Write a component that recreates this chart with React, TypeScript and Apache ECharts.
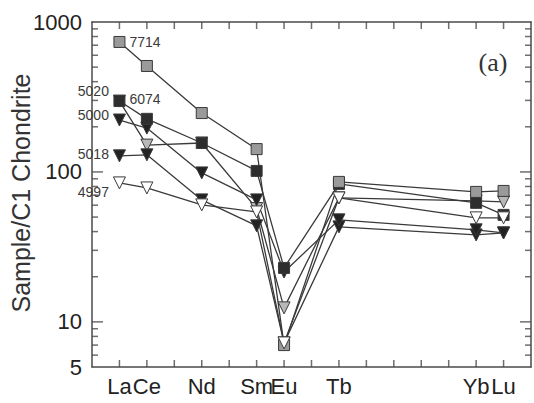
import React, { useEffect, useRef } from 'react';
import * as echarts from 'echarts';

// REE elements and their atomic numbers (x positions)
const elementNames = ['La', 'Ce', 'Nd', 'Sm', 'Eu', 'Tb', 'Yb', 'Lu'];
const atomicNumbers = [57, 58, 60, 62, 63, 65, 70, 71];
const xTickValues = [57, 58, 59, 60, 61, 62, 63, 64, 65, 66, 67, 68, 69, 70, 71];

// Chondrite-normalised values per sample
const s7714 = [736, 509, 247, 142, 7.0, 85.8, 73.6, 74.7];
const s6074 = [297, 226, 156, 101.6, 22.9, 83.2, 62.2, 51.7];
const s5020 = [297, 151, 156, 57, 12.4, 67.1, 64.1, 63.1];
const s5000 = [222, 196, 98.5, 65.1, 21.5, 47.9, 41.1, 39.2];
const s5018 = [128, 130, 65.1, 43.7, 7.24, 43.0, 38.0, 39.2];
const s4997 = [84.5, 78.2, 60.3, 54.1, 7.24, 67.1, 49.4, 49.4];

// Axis ticks / labels
const yMinorTicks = [6, 7, 8, 9, 20, 30, 40, 50, 60, 70, 80, 90, 200, 300, 400, 500, 600, 700, 800, 900];
const yMajorTicks = [10, 100];
const yLabels = [5, 10, 100, 1000];

const FONT = 'Liberation Sans, Arial, sans-serif';
const AXIS_COLOR = '#4a4a4a';
const X_MIN = 56;
const X_MAX = 72;
const Y_MIN = 5;
const Y_MAX = 1000;

type Style = {
  name: string;
  values: number[];
  symbol: string;
  rotate: number;
  fill: string;
  size: number;
  labelPos: 'left' | 'right';
  labelOffset: [number, number];
};

const styles: Style[] = [
  { name: '5020', values: s5020, symbol: 'triangle', rotate: 180, fill: '#b8b8b8', size: 12, labelPos: 'left', labelOffset: [0, -10] },
  { name: '5018', values: s5018, symbol: 'triangle', rotate: 180, fill: '#222222', size: 12, labelPos: 'left', labelOffset: [0, -2] },
  { name: '5000', values: s5000, symbol: 'triangle', rotate: 180, fill: '#222222', size: 12, labelPos: 'left', labelOffset: [0, -5] },
  { name: '6074', values: s6074, symbol: 'rect', rotate: 0, fill: '#2e2e2e', size: 11, labelPos: 'right', labelOffset: [0, -2] },
  { name: '7714', values: s7714, symbol: 'rect', rotate: 0, fill: '#9a9a9a', size: 11, labelPos: 'right', labelOffset: [0, 0] },
  { name: '4997', values: s4997, symbol: 'triangle', rotate: 180, fill: '#ffffff', size: 12, labelPos: 'left', labelOffset: [0, 9] },
];

function tickSeries(data: number[][], size: number[], offset: number[]) {
  return {
    type: 'scatter',
    xAxisIndex: 0,
    yAxisIndex: 0,
    silent: true,
    clip: false,
    symbol: 'rect',
    symbolSize: size,
    symbolOffset: offset,
    itemStyle: { color: AXIS_COLOR },
    z: 6,
    data,
  };
}

export default function App() {
  const ref = useRef<HTMLDivElement>(null);

  useEffect(() => {
    document.body.style.margin = '0';
    const chart = echarts.init(ref.current!, null, { renderer: 'svg' });

    const axisLineStyle = { color: AXIS_COLOR, width: 1.5 };

    const series: any[] = styles.map((s) => ({
      type: 'line',
      name: s.name,
      xAxisIndex: 0,
      yAxisIndex: 0,
      symbol: s.symbol,
      symbolSize: s.size,
      symbolRotate: s.rotate,
      showAllSymbol: true,
      lineStyle: { color: '#3a3a3a', width: 1.3 },
      itemStyle: { color: s.fill, borderColor: '#3a3a3a', borderWidth: 1 },
      data: s.values.map((v, i) => {
        const item: any = { value: [atomicNumbers[i], v] };
        if (i === 0) {
          item.label = {
            show: true,
            formatter: s.name,
            position: s.labelPos,
            offset: s.labelOffset,
            distance: 4,
            fontSize: 14,
            fontFamily: FONT,
            color: '#3a3a3a',
          };
        }
        return item;
      }),
      z: 3,
    }));

    // inward tick marks on all four sides, placed by the axes' scales
    series.push(tickSeries(xTickValues.map((v) => [v, Y_MIN]), [1.5, 7], [0, -3.5]));
    series.push(tickSeries(xTickValues.map((v) => [v, Y_MAX]), [1.5, 7], [0, 3.5]));
    series.push(tickSeries(yMinorTicks.map((v) => [X_MIN, v]), [6, 1.5], [3, 0]));
    series.push(tickSeries(yMinorTicks.map((v) => [X_MAX, v]), [6, 1.5], [-3, 0]));
    series.push(tickSeries(yMajorTicks.map((v) => [X_MIN, v]), [11, 1.5], [5.5, 0]));
    series.push(tickSeries(yMajorTicks.map((v) => [X_MAX, v]), [11, 1.5], [-5.5, 0]));

    const logAxisBase = {
      type: 'log',
      logBase: 10,
      min: Y_MIN,
      max: Y_MAX,
      splitLine: { show: false },
      axisTick: { show: false },
    };

    chart.setOption({
      animation: false,
      backgroundColor: '#ffffff',
      grid: { left: 92, right: 2, top: 22, bottom: 36 },
      xAxis: [
        {
          type: 'value',
          min: X_MIN,
          max: X_MAX,
          interval: 1,
          position: 'bottom',
          axisLine: { show: true, lineStyle: axisLineStyle },
          axisTick: { show: false },
          axisLabel: {
            show: true,
            margin: 8,
            fontSize: 22,
            fontFamily: FONT,
            color: '#222',
            formatter: (v: number) => {
              const idx = atomicNumbers.indexOf(v);
              return idx >= 0 ? elementNames[idx] : '';
            },
          },
          splitLine: { show: false },
        },
        {
          type: 'value',
          min: X_MIN,
          max: X_MAX,
          interval: 1,
          position: 'top',
          axisLine: { show: true, lineStyle: axisLineStyle },
          axisTick: { show: false },
          axisLabel: { show: false },
          splitLine: { show: false },
        },
      ],
      yAxis: [
        {
          ...logAxisBase,
          position: 'left',
          axisLine: { show: true, lineStyle: axisLineStyle },
          axisLabel: {
            show: true,
            customValues: yLabels,
            margin: 10,
            fontSize: 22,
            fontFamily: FONT,
            color: '#222',
            formatter: (v: number) => String(Math.round(v)),
          },
        },
        {
          ...logAxisBase,
          position: 'right',
          axisLine: { show: true, lineStyle: axisLineStyle },
          axisLabel: { show: false },
        },
      ],
      graphic: [
        {
          type: 'text',
          x: 21,
          y: 193,
          rotation: Math.PI / 2,
          style: {
            text: 'Sample/C1 Chondrite',
            fontSize: 25,
            fontFamily: FONT,
            fill: '#333',
            align: 'center',
            verticalAlign: 'middle',
          },
        },
        {
          type: 'text',
          x: 493,
          y: 62,
          style: {
            text: '(a)',
            fontSize: 26,
            fontFamily: 'Liberation Serif, Times New Roman, serif',
            fill: '#333',
            align: 'center',
            verticalAlign: 'middle',
          },
        },
      ],
      series,
    });

    return () => chart.dispose();
  }, []);

  return <div ref={ref} style={{ width: 534, height: 403 }} />;
}
